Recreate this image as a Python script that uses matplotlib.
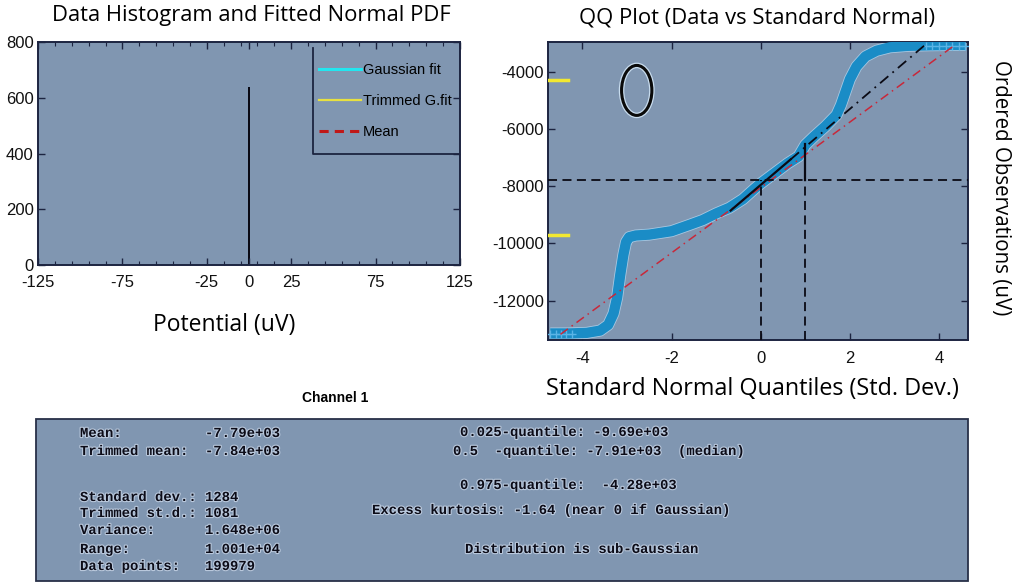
import matplotlib
matplotlib.use("Agg")
import matplotlib.pyplot as plt
import matplotlib.patheffects as pe
from matplotlib.patches import Ellipse, Rectangle
from matplotlib.lines import Line2D
import numpy as np

plt.rcParams["axes.unicode_minus"] = False

# ---- data ----
hist_x = [0.0]
hist_counts = [640]
hist_xticks = [-125, -75, -25, 0, 25, 75, 125]
hist_yticks = [0, 200, 400, 600, 800]

qq_x = [-4.72, -4.3, -3.9, -3.6, -3.42, -3.3, -3.22, -3.15, -3.08, -3.02, -2.95,
        -2.8, -2.5, -2.0, -1.6, -1.3, -1.0, -0.7, -0.4, -0.15, 0.0, 0.3, 0.6,
        0.85, 1.0, 1.2, 1.45, 1.7, 1.8, 1.9, 2.0, 2.15, 2.35, 2.6, 2.9, 3.3,
        3.8, 4.3, 4.6]
qq_y = [-13150, -13150, -13130, -13050, -12850, -12450, -11900, -11100, -10400,
        -9950, -9780, -9720, -9690, -9570, -9350, -9180, -8950, -8750, -8450,
        -8100, -7900, -7550, -7200, -6950, -6550, -6250, -5900, -5500, -5150,
        -4700, -4250, -3800, -3450, -3250, -3130, -3080, -3060, -3050, -3050]
plus_lo_x = [-4.72, -4.6, -4.48, -4.36, -4.24]
plus_hi_x = [3.7, 3.85, 4.0, 4.15, 4.3, 4.45, 4.58]
plus_lo_y = -13160
plus_hi_y = -3090

fit_intercept, fit_slope, fit_range = -8040, 1145, (-4.49, 4.3)
quart_intercept, quart_slope = -7950, 1330
quart_x = (-0.674, 0.674)
quart_ext_end = 3.7

mean_val = -7790
std_val = 1284
q025, q975 = -9690, -4280
qq_xticks = [-4, -2, 0, 2, 4]
qq_yticks = [-12000, -10000, -8000, -6000, -4000]

stat_labels = ["Mean:", "Trimmed mean:", "Standard dev.:", "Trimmed st.d.:",
               "Variance:", "Range:", "Data points:"]
stat_values = ["-7.79e+03", "-7.84e+03", "1284", "1081", "1.648e+06",
               "1.001e+04", "199979"]
stat_rows = [433, 451, 497, 513, 530, 549, 566]
quant_lines = ["0.025-quantile: -9.69e+03",
               "0.5  -quantile: -7.91e+03  (median)",
               "0.975-quantile:  -4.28e+03",
               "Excess kurtosis: -1.64 (near 0 if Gaussian)",
               "Distribution is sub-Gaussian"]
quant_pos = [(460, 432), (453, 451), (460, 485), (372, 510), (465, 549)]

# ---- style ----
W, H = 1017, 583
BG = "#8096b1"
SPINE = "#1c2440"
NARROW = ["Liberation Sans", "DejaVu Sans"]
TITLE_FONT = ["Open Sans", "DejaVu Sans"]
MONO = ["Liberation Mono", "DejaVu Sans Mono"]


def fx(px):
    return px / W


def fy(py):
    return 1 - py / H


def style_axes(ax, xpad):
    ax.set_facecolor(BG)
    for s in ax.spines.values():
        s.set_color(SPINE)
        s.set_linewidth(1.4)
    ax.tick_params(which="both", direction="in", top=True, right=True,
                   colors=SPINE, labelcolor="#111111")
    ax.tick_params(axis="x", pad=xpad)
    ax.tick_params(axis="y", pad=3)
    ax.tick_params(which="major", length=5, width=1)
    ax.tick_params(which="minor", length=3, width=0.8)
    for lab in ax.get_xticklabels() + ax.get_yticklabels():
        lab.set_family(NARROW)
        lab.set_fontsize(12)


fig = plt.figure(figsize=(W / 100, H / 100), dpi=100, facecolor="white")

# ---- histogram panel ----
ax1 = fig.add_axes([fx(38), fy(265), fx(460 - 38), (265 - 42) / H])
ax1.bar(hist_x, hist_counts, width=0.7, color="#0a0a14")
ax1.set_xlim(-125, 125)
ax1.set_ylim(0, 800)
ax1.set_xticks(hist_xticks)
ax1.set_xticks(np.arange(-115, 125, 10), minor=True)
ax1.set_yticks(hist_yticks)
style_axes(ax1, xpad=7)

handles = [Line2D([], [], color="#22e6f0", lw=2.2),
           Line2D([], [], color="#e8e040", lw=1.6),
           Line2D([], [], color="#c01818", lw=2.2, ls=(0, (3, 2)))]
ax1.legend(handles, ["Gaussian fit", "Trimmed G.fit", "Mean"],
           loc="upper left", bbox_to_anchor=(0.665, 0.905), frameon=False,
           prop={"family": NARROW, "size": 10.5}, handlelength=2.9,
           handletextpad=0.15, labelspacing=1.15, borderaxespad=0, borderpad=0)
ax1.add_line(Line2D([0.652, 0.652, 1.0], [0.973, 0.498, 0.498],
                    transform=ax1.transAxes, color=SPINE, lw=1.3))

fig.text(fx(251), fy(16), "Data Histogram and Fitted Normal PDF",
         family=TITLE_FONT, fontsize=15.8, ha="center", va="center")
fig.text(fx(224), fy(325), "Potential (uV)", family=TITLE_FONT, fontsize=16.5,
         ha="center", va="center")

# ---- QQ panel ----
ax2 = fig.add_axes([fx(548), fy(340), fx(968 - 548), (340 - 42) / H])
ax2.set_xlim(-4.77, 4.65)
ax2.set_ylim(-13380, -2945)

ax2.plot(qq_x, qq_y, color="#a8c8e2", lw=8.6, solid_capstyle="butt", zorder=2)
ax2.plot(qq_x, qq_y, color="#1a8cc6", lw=7.4, solid_capstyle="butt", zorder=3)
ax2.plot(plus_lo_x, [plus_lo_y] * len(plus_lo_x), "+", color="#5ab4e6", ms=6, zorder=3)
ax2.plot(plus_hi_x, [plus_hi_y] * len(plus_hi_x), "+", color="#5ab4e6", ms=6, zorder=3)

fx_line = np.array(fit_range)
ax2.plot(fx_line, fit_intercept + fit_slope * fx_line, color="#c8283a", lw=1.1,
         ls=(0, (6, 3, 1, 3)), zorder=4)
qx = np.array(quart_x)
ax2.plot(qx, quart_intercept + quart_slope * qx, color="#0a0a14", lw=1.6, zorder=5)
ex = np.array([quart_x[1], quart_ext_end])
ax2.plot(ex, quart_intercept + quart_slope * ex, color="#0a0a14", lw=1.3,
         ls=(0, (6, 3, 1, 3)), zorder=5)

ax2.axhline(mean_val, color="#0a0a14", lw=1.3, ls=(0, (5, 3)), zorder=5)
ax2.plot([0, 0], [-13380, mean_val], color="#0a0a14", lw=1.3, ls=(0, (5, 3)), zorder=5)
ax2.plot([1, 1], [-13380, mean_val], color="#0a0a14", lw=1.3, ls=(0, (5, 3)), zorder=5)
ax2.plot([1, 1], [mean_val, mean_val + std_val], color="#0a0a14", lw=1.6, zorder=5)

for q in (q025, q975):
    ax2.plot([-4.77, -4.32], [q, q], color="#f2e830", lw=2.5, zorder=6)

ell = Ellipse((-2.78, -4640), 0.68, 1750, fill=False, edgecolor="#0a0a0a", lw=2.2,
              zorder=6)
ell.set_path_effects([pe.Stroke(linewidth=4, foreground="#c8dcee"), pe.Normal()])
ax2.add_patch(ell)

ax2.set_xticks(qq_xticks)
ax2.set_yticks(qq_yticks)
style_axes(ax2, xpad=8)

fig.text(fx(757), fy(18), "QQ Plot (Data vs Standard Normal)", family=TITLE_FONT,
         fontsize=15.8, ha="center", va="center")
fig.text(fx(752), fy(389), "Standard Normal Quantiles (Std. Dev.)", family=TITLE_FONT,
         fontsize=16.8, ha="center", va="center")
fig.text(fx(1001), fy(188), "Ordered Observations (uV)", family=TITLE_FONT,
         fontsize=14.8, ha="center", va="center", rotation=270)

# ---- statistics box ----
fig.patches.append(Rectangle((fx(36), fy(581)), fx(968 - 36), (581 - 419) / H,
                             transform=fig.transFigure, facecolor=BG,
                             edgecolor="#283048", lw=1.3))
fig.text(fx(335), fy(398), "Channel 1", family=NARROW, fontsize=10,
         fontweight="bold", ha="center", va="center")

halo = [pe.withStroke(linewidth=1.6, foreground="#b9c8dc")]
for lab, val, row in zip(stat_labels, stat_values, stat_rows):
    fig.text(fx(80), fy(row), lab, family=MONO, fontsize=10, fontweight="bold",
             ha="left", va="center", color="#0c0c18", path_effects=halo)
    fig.text(fx(205), fy(row), val, family=MONO, fontsize=10, fontweight="bold",
             ha="left", va="center", color="#0c0c18", path_effects=halo)
for line, (px, py) in zip(quant_lines, quant_pos):
    fig.text(fx(px), fy(py), line, family=MONO, fontsize=10, fontweight="bold",
             ha="left", va="center", color="#0c0c18", path_effects=halo)

fig.savefig("out.png", dpi=100, facecolor="white")
